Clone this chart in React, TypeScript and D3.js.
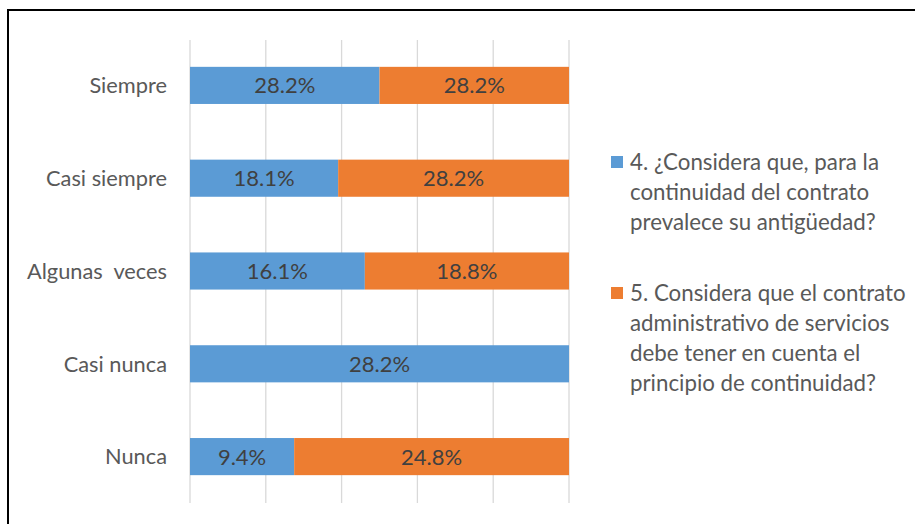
import React from "react";
import * as d3 from "d3";

const categories = ["Siempre", "Casi siempre", "Algunas  veces", "Casi nunca", "Nunca"];
const series1 = [28.2, 18.1, 16.1, 28.2, 9.4];
const series2 = [28.2, 28.2, 18.8, 0, 24.8];
const seriesNames = [
  ["4. ¿Considera que, para la", "continuidad del contrato", "prevalece su antigüedad?"],
  ["5. Considera que el contrato", "administrativo de servicios", "debe tener en cuenta el", "principio de continuidad?"],
];
const colors = ["#5B9BD5", "#ED7D31"];
const gridTicks = [0, 0.2, 0.4, 0.6, 0.8, 1];

export default function App() {
  const W = 915, H = 524;
  const x = d3.scaleLinear().domain([0, 1]).range([190, 569]);
  const y = d3.scaleBand().domain(categories).range([39, 503]).paddingInner(0.6).paddingOuter(0.3);
  const font = "Lato, Carlito, 'Open Sans', sans-serif";
  const rows = categories.map((c, i) => {
    const tot = series1[i] + series2[i];
    return { c, a: series1[i], b: series2[i], fa: series1[i] / tot, fb: series2[i] / tot };
  });
  const legendY = [162, 293];
  return (
    <svg width={W} height={H} style={{ position: "absolute", left: 0, top: 0, background: "#fff" }} fontFamily={font}>
      <rect x={0} y={0} width={W} height={H} fill="#fff" />
      <rect x={8} y={10} width={W + 20} height={H + 20} fill="none" stroke="#000" strokeWidth={2} />
      {gridTicks.map((t) => (
        <line key={t} x1={x(t)} x2={x(t)} y1={40} y2={503} stroke="#D9D9D9" strokeWidth={1.3} />
      ))}
      {rows.map((r) => {
        const y0 = y(r.c)!;
        const bh = y.bandwidth();
        const cy = y0 + bh / 2;
        return (
          <g key={r.c}>
            <rect x={x(0)} y={y0} width={x(r.fa) - x(0)} height={bh} fill={colors[0]} />
            {r.b > 0 && (
              <rect x={x(r.fa)} y={y0} width={x(1) - x(r.fa)} height={bh} fill={colors[1]} />
            )}
            <text x={(x(0) + x(r.fa)) / 2} y={cy} dy="0.36em" textAnchor="middle" fontSize={22} fill="#404040">
              {r.a.toFixed(1)}%
            </text>
            {r.b > 0 && (
              <text x={(x(r.fa) + x(1)) / 2} y={cy} dy="0.36em" textAnchor="middle" fontSize={22} fill="#404040">
                {r.b.toFixed(1)}%
              </text>
            )}
            <text x={167} y={cy} dy="0.36em" textAnchor="end" fontSize={21.8} fill="#595959" style={{ whiteSpace: "pre" }}>
              {r.c}
            </text>
          </g>
        );
      })}
      {seriesNames.map((lines, si) => (
        <g key={si}>
          <rect x={611} y={legendY[si] - 6} width={12} height={12} fill={colors[si]} />
          {lines.map((l, li) => (
            <text key={li} x={630} y={legendY[si] + li * 30} dy="0.36em" fontSize={22.3} fill="#595959">
              {l}
            </text>
          ))}
        </g>
      ))}
    </svg>
  );
}
